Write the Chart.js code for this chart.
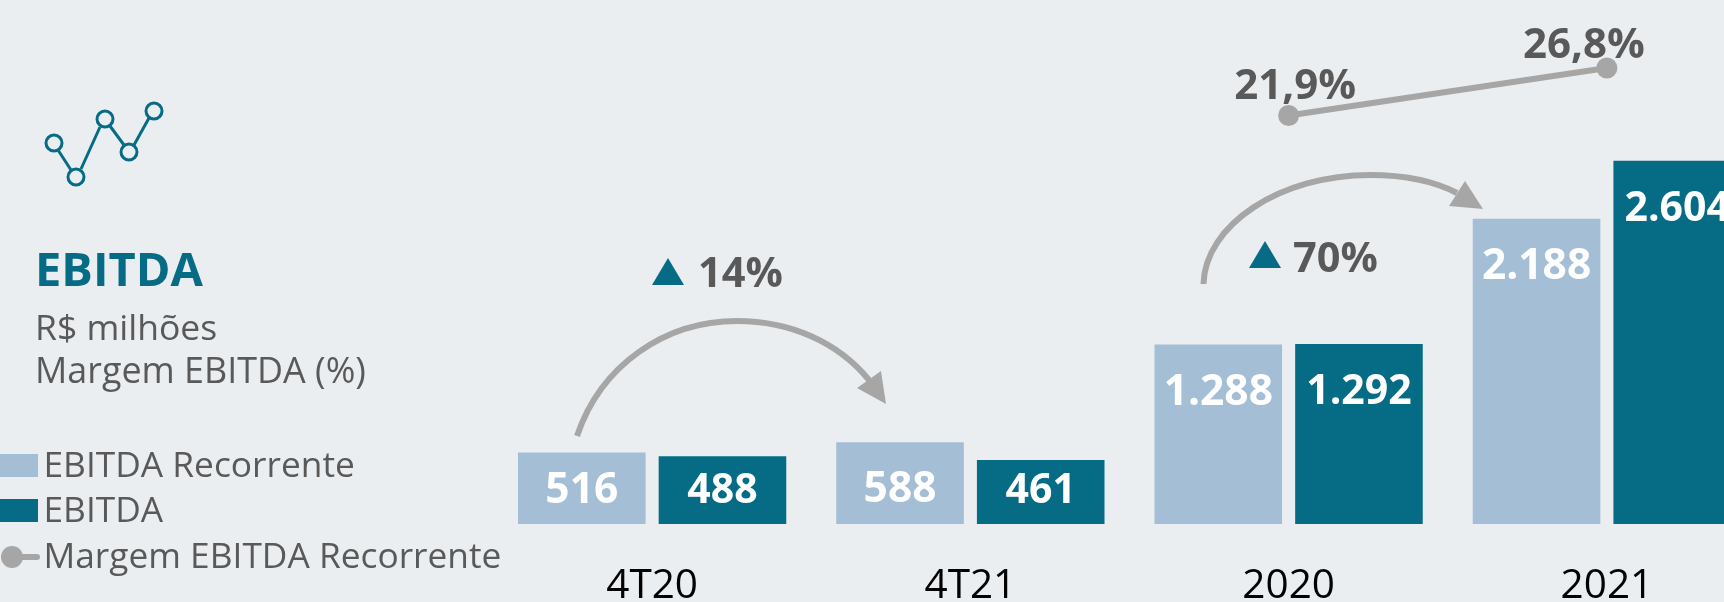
<!DOCTYPE html>
<html><head><meta charset="utf-8">
<style>
html,body{margin:0;padding:0;width:1724px;height:602px;overflow:hidden;background:#EAEEF1;font-family:"Open Sans",sans-serif}
#wrap{position:relative;width:1724px;height:602px;overflow:hidden}
canvas{position:absolute;left:0;top:0}
.t{position:absolute;white-space:nowrap;line-height:1;color:#595959}
.sw{position:absolute;left:0;width:38px;height:23px}
svg{position:absolute;left:0;top:0}
</style></head><body>
<div id="wrap">
<canvas id="c" width="1790" height="602"></canvas>
<svg width="200" height="200" fill="none" stroke="#066C86" stroke-width="3">
<path d="M58 150L71 170M81 169L100 127M110 126L124 145M134 145L149 118"/>
<circle cx="54" cy="143" r="8"/><circle cx="76" cy="177" r="8"/><circle cx="105" cy="119" r="8"/><circle cx="129" cy="152" r="8"/><circle cx="154" cy="111" r="8"/>
</svg>
<div class="t" id="title" style="left:35px;top:245px;font-size:47px;font-weight:700;color:#066C86">EBITDA</div>
<div class="t" id="sub1" style="left:35px;top:308.5px;font-size:35.5px">R$ milhões</div>
<div class="t" id="sub2" style="left:35px;top:352px;font-size:35.9px">Margem EBITDA (%)</div>
<div id="legend"></div>
</div>
<script src="https://cdn.jsdelivr.net/npm/chart.js@4"></script>
<script>
const categories = ["4T20","4T21","2020","2021"];
const ebitdaRecorrente = [516,588,1288,2188];
const ebitda = [488,461,1292,2604];
const margemRecorrente = [null,null,21.9,26.8];
const margemLabels = [null,null,"21,9%","26,8%"];
const fmt = v => String(v).replace(/\B(?=(\d{3})+$)/g,".");
const BAR1="#A3BED5", BAR2="#066C86", GREY="#A6A6A6", TXT="#595959";

function arrow(ctx,start,segs,tri){
  ctx.save();ctx.strokeStyle=GREY;ctx.fillStyle=GREY;ctx.lineWidth=6;
  ctx.beginPath();ctx.moveTo(...start);segs.forEach(s=>ctx.bezierCurveTo(...s));ctx.stroke();
  ctx.beginPath();ctx.moveTo(...tri[0]);ctx.lineTo(...tri[1]);ctx.lineTo(...tri[2]);ctx.closePath();ctx.fill();
  ctx.restore();
}
function growth(ctx,tx,ty,label,lx,by){
  ctx.save();ctx.fillStyle=BAR2;ctx.beginPath();ctx.moveTo(tx,ty+27);ctx.lineTo(tx+16,ty);ctx.lineTo(tx+32,ty+27);ctx.closePath();ctx.fill();
  ctx.fillStyle=TXT;ctx.font='700 41.5px "Open Sans"';ctx.textAlign="left";ctx.textBaseline="alphabetic";ctx.fillText(label,lx,by);ctx.restore();
}
const annot={id:"annot",afterDatasetsDraw(ch){
  const ctx=ch.ctx;
  ctx.save();ctx.fillStyle="#fff";ctx.textAlign="center";ctx.textBaseline="alphabetic";
  [0,1].forEach(d=>{
    ctx.font=(d===0?'700 42.5px':'700 41px')+' "Open Sans"';
    ch.getDatasetMeta(d).data.forEach((b,i)=>{
      const by=Math.min(b.y+60,502.5);
      ctx.fillText(fmt(ch.data.datasets[d].data[i]),b.x,by);
    });
  });
  ctx.font='700 42px "Open Sans"';ctx.fillStyle=TXT;
  const off={2:[6.5,-16.5],3:[-23,-10]};
  ch.getDatasetMeta(2).data.forEach((p,i)=>{
    if(margemLabels[i]) ctx.fillText(margemLabels[i],p.x+off[i][0],p.y+off[i][1]);
  });
  ctx.restore();
  arrow(ctx,[577,436],[[601,365,665,321,737,321],[790,321,838,342,869,380]],[[886,404],[881,371],[857,388]]);
  arrow(ctx,[1203.5,284],[[1205,225,1280,175,1370,175],[1402,175,1432,180,1457,193]],[[1483,209],[1465,181],[1449,206]]);
  growth(ctx,652,258,"14%",698,287);
  growth(ctx,1249,241,"70%",1293,271.5);
}};
const chart=new Chart(document.getElementById("c"),{
  data:{labels:categories,datasets:[
    {type:"bar",label:"EBITDA Recorrente",data:ebitdaRecorrente,backgroundColor:BAR1,yAxisID:"y",categoryPercentage:.884,barPercentage:.907,order:2},
    {type:"bar",label:"EBITDA",data:ebitda,backgroundColor:BAR2,yAxisID:"y",categoryPercentage:.884,barPercentage:.907,order:2},
    {type:"line",label:"Margem EBITDA Recorrente",data:margemRecorrente,yAxisID:"y1",borderColor:GREY,backgroundColor:GREY,borderWidth:6,pointRadius:10.5,pointBackgroundColor:GREY,pointBorderWidth:0,spanGaps:false,order:1}
  ]},
  options:{responsive:false,animation:false,
    layout:{autoPadding:false,padding:{left:483,right:24,top:0,bottom:0}},
    plugins:{legend:{display:false},tooltip:{enabled:false},title:{display:false}},
    scales:{
      x:{grid:{display:false},border:{display:false},
        ticks:{color:"#000",font:{family:'"Open Sans"',size:40.5},padding:30,maxRotation:0},
        afterFit:s=>{s.height=77.5}},
      y:{min:0,max:3754,position:"left",
        grid:{drawOnChartArea:false,drawTicks:true,tickLength:10,color:c=>(c.tick&&c.tick.value%500===0&&c.tick.value>0)?"#E3E8EF":"rgba(0,0,0,0)"},
        border:{display:false},
        ticks:{display:false,stepSize:500,includeBounds:false},afterFit:s=>{s.width=10}},
      y1:{display:false,min:-20.3,max:33.82}
    }
  },
  plugins:[annot]
});
// legend built from the chart's own datasets
const lg=document.getElementById("legend");
const rows=[[445.5,454],[490.5,499],[536.5,0]];
chart.data.datasets.forEach((d,i)=>{
  const t=document.createElement("div");t.className="t";t.textContent=d.label;
  t.style.cssText=`left:43.5px;top:${rows[i][0]}px;font-size:35.3px`;lg.appendChild(t);
  if(i<2){const s=document.createElement("div");s.className="sw";s.style.top=rows[i][1]+"px";s.style.background=d.backgroundColor;lg.appendChild(s);}
});
lg.insertAdjacentHTML("beforeend",'<svg width="44" height="602"><path d="M12 557H37" stroke="#A6A6A6" stroke-width="6" stroke-linecap="round"/><circle cx="12" cy="557" r="11" fill="#A6A6A6"/></svg>');
</script>
</body></html>
